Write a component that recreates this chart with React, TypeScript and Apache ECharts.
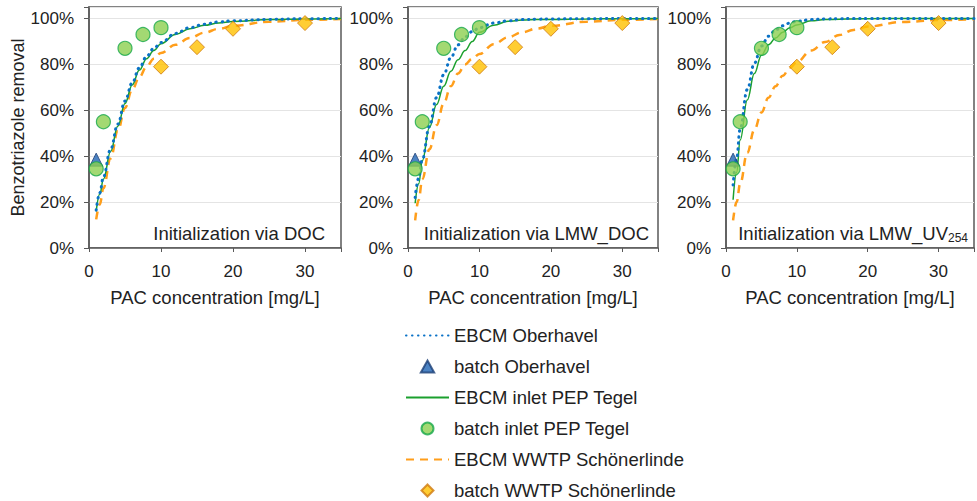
import React, { useEffect, useRef } from "react";
import * as echarts from "echarts";

// ---- data ----
const curveX = [1, 1.5, 2, 3, 4, 5, 6, 7, 8, 9, 10, 12, 14, 16, 18, 20, 25, 30, 35];

// Panel 1: Initialization via DOC
const docOberhavel = [16.5, 24, 31, 43, 54, 64, 72, 78.5, 83.5, 87, 89.5, 93.5, 96, 97.5, 98.5, 99, 99.6, 99.9, 100];
const docTegel = [16, 23.5, 30, 42, 53, 63, 71, 77.5, 82.5, 86, 89, 93, 95.5, 97, 98, 98.7, 99.5, 99.8, 100];
const docSchoen = [12.5, 19, 26, 39, 51, 61, 69, 74.5, 79, 82.5, 85, 88.5, 91.5, 93.8, 95.5, 96.8, 98.6, 99.4, 99.8];

// Panel 2: Initialization via LMW_DOC
const lmwDocOberhavel = [22, 30.5, 38.5, 53, 65.5, 75.5, 83, 88.5, 92, 94.3, 96, 98, 99, 99.5, 99.7, 99.8, 99.9, 100, 100];
const lmwDocTegel = [19.5, 28, 38, 52.5, 62.5, 70.5, 77, 82, 86, 90, 94, 97, 98.8, 99.3, 99.5, 99.6, 99.8, 99.9, 100];
const lmwDocSchoen = [12, 21, 30, 43, 53.5, 63, 70.5, 76, 80, 82.5, 84.5, 88.8, 91.8, 94, 95.6, 96.8, 98.6, 99.4, 99.8];

// Panel 3: Initialization via LMW_UV254
const uvOberhavel = [27.5, 39, 52, 69, 80.5, 88, 92.3, 95, 96.8, 98, 98.8, 99.5, 99.8, 99.9, 100, 100, 100, 100, 100];
const uvTegel = [21, 33, 47, 64.5, 76, 84, 88.5, 91.5, 94, 96, 97.2, 99, 99.5, 99.7, 99.8, 99.9, 100, 100, 100];
const uvSchoen = [12, 20, 28, 41.5, 51.5, 59, 65.5, 70.5, 75, 78.5, 81, 86, 89.8, 92.8, 95, 96.5, 98.5, 99.3, 99.7];

// batch measurements (same in all panels)
const batchOberhavelX = [1];
const batchOberhavelY = [38.5];
const batchTegelX = [1, 2, 5, 7.5, 10];
const batchTegelY = [34.5, 55, 87, 93, 96];
const batchSchoenX = [10, 15, 20, 30];
const batchSchoenY = [79, 87.5, 95.5, 98];

const seriesNames = [
  "EBCM Oberhavel",
  "batch Oberhavel",
  "EBCM inlet PEP Tegel",
  "batch inlet PEP Tegel",
  "EBCM WWTP Schönerlinde",
  "batch WWTP Schönerlinde",
];
const panelLabels = ["Initialization via DOC", "Initialization via LMW_DOC", "Initialization via LMW_UV{sub|254}"];
const yTicksMax = 100;

const FONT = "'Liberation Sans', Arial, sans-serif";
const TEXT = "#222222";
const AXIS = "#595959";

const TRIANGLE = "path://M5,0 L10,9 L0,9 Z";
const DIAMOND = "path://M5,0 L10,5 L5,10 L0,5 Z";
const HIDDEN = { color: "transparent", borderColor: "transparent", borderWidth: 0 };

const zip = (xs: number[], ys: number[]) => xs.map((x, i) => [x, ys[i]]);

export default function App() {
  const ref = useRef<HTMLDivElement>(null);

  useEffect(() => {
    if (!ref.current) return;
    const chart = echarts.init(ref.current, undefined, { renderer: "svg" });

    const grids = [
      { left: 89, top: 7, width: 252, height: 241 },
      { left: 408, top: 7, width: 250, height: 241 },
      { left: 726, top: 7, width: 250, height: 241 },
    ];
    const curves = [
      [docOberhavel, docTegel, docSchoen],
      [lmwDocOberhavel, lmwDocTegel, lmwDocSchoen],
      [uvOberhavel, uvTegel, uvSchoen],
    ];

    const xAxes = grids.map((_, i) => ({
      type: "value",
      gridIndex: i,
      min: 0,
      max: 35,
      interval: 10,
      name: "PAC concentration [mg/L]",
      nameLocation: "middle",
      nameGap: 40,
      nameTextStyle: { fontFamily: FONT, fontSize: 18.5, color: TEXT },
      axisLine: { show: true, lineStyle: { color: AXIS, width: 1.5 } },
      axisTick: { show: true, length: 4, lineStyle: { color: AXIS, width: 1 } },
      axisLabel: {
        fontFamily: FONT,
        fontSize: 17,
        color: TEXT,
        margin: 15,
        formatter: (v: number) => (v > 30 ? "" : String(v)),
      },
      splitLine: { show: false },
    }));

    const yAxes = grids.map((_, i) => ({
      type: "value",
      gridIndex: i,
      min: 0,
      max: 105,
      interval: 20,
      name: i === 0 ? "Benzotriazole removal" : "",
      nameLocation: "middle",
      nameGap: 61,
      nameRotate: 90,
      nameTextStyle: { fontFamily: FONT, fontSize: 18, color: TEXT },
      axisLine: { show: true, lineStyle: { color: AXIS, width: 1.5 } },
      axisTick: { show: true, length: 5, lineStyle: { color: AXIS, width: 1 } },
      axisLabel: {
        fontFamily: FONT,
        fontSize: 17,
        color: TEXT,
        margin: 15,
        formatter: (v: number) => (v > yTicksMax ? "" : v + "%"),
      },
      splitLine: { show: true, lineStyle: { color: "#E4E4E4", width: 1 } },
    }));

    const series: any[] = [];
    grids.forEach((_, i) => {
      const [ob, te, sc] = curves[i];
      series.push(
        {
          name: seriesNames[4],
          type: "line",
          xAxisIndex: i,
          yAxisIndex: i,
          data: zip(curveX, sc),
          smooth: 0.4,
          smoothMonotone: "x",
          symbol: "none",
          lineStyle: { color: "#FF9E1B", width: 2.5, type: [8, 6] },
          itemStyle: { color: "#FF9E1B" },
          z: 2,
        },
        {
          name: seriesNames[2],
          type: "line",
          xAxisIndex: i,
          yAxisIndex: i,
          data: zip(curveX, te),
          smooth: 0.4,
          smoothMonotone: "x",
          symbol: "none",
          lineStyle: { color: "#1BA02E", width: 1.5, type: "solid" },
          itemStyle: { color: "#1BA02E" },
          z: 3,
        },
        {
          name: seriesNames[0],
          type: "line",
          xAxisIndex: i,
          yAxisIndex: i,
          data: zip(curveX, ob),
          smooth: 0.4,
          smoothMonotone: "x",
          symbol: "none",
          lineStyle: { color: "#0A72C6", width: 3, type: [0.5, 5.5], cap: "round" },
          itemStyle: { color: "#0A72C6" },
          z: 4,
        },
        {
          name: seriesNames[1],
          type: "scatter",
          xAxisIndex: i,
          yAxisIndex: i,
          data: zip(batchOberhavelX, batchOberhavelY),
          symbol: "triangle",
          symbolSize: [13, 13],
          itemStyle: { color: "#1F64B4", borderColor: "#1B3F75", borderWidth: 1 },
          z: 5,
        },
        {
          name: seriesNames[3],
          type: "scatter",
          xAxisIndex: i,
          yAxisIndex: i,
          data: zip(batchTegelX, batchTegelY),
          symbol: "circle",
          symbolSize: 14,
          itemStyle: { color: "#8CD050", borderColor: "#16A84A", borderWidth: 1.2 },
          z: 6,
        },
        {
          name: seriesNames[5],
          type: "scatter",
          xAxisIndex: i,
          yAxisIndex: i,
          data: zip(batchSchoenX, batchSchoenY),
          symbol: "diamond",
          symbolSize: 15,
          itemStyle: { color: "#FFC000", borderColor: "#D07A10", borderWidth: 1 },
          z: 6,
        }
      );
    });

    const labelRights = [325, 649, 968];

    chart.setOption({
      animation: false,
      backgroundColor: "#ffffff",
      grid: grids.map((g) => ({
        ...g,
        show: true,
        borderColor: AXIS,
        borderWidth: 1.5,
        backgroundColor: "transparent",
        containLabel: false,
      })),
      xAxis: xAxes,
      yAxis: yAxes,
      legend: {
        orient: "vertical",
        left: 405,
        top: 326,
        height: 200,
        padding: 0,
        itemWidth: 43,
        itemHeight: 12,
        itemGap: 12,
        symbolKeepAspect: true,
        data: [
          { name: seriesNames[0], itemStyle: HIDDEN },
          { name: seriesNames[1], icon: TRIANGLE },
          { name: seriesNames[2], itemStyle: HIDDEN },
          { name: seriesNames[3], icon: "circle" },
          { name: seriesNames[4], itemStyle: HIDDEN },
          { name: seriesNames[5], icon: DIAMOND },
        ],
        textStyle: { fontFamily: FONT, fontSize: 18.5, color: TEXT, lineHeight: 19 },
      },
      graphic: panelLabels.map((t, i) => ({
        type: "text",
        x: labelRights[i],
        y: 233,
        z: 10,
        style: {
          text: t,
          fontFamily: FONT,
          fontSize: 18.5,
          fill: TEXT,
          align: "right",
          verticalAlign: "middle",
          textAlign: "right",
          textVerticalAlign: "middle",
          rich: {
            sub: { fontFamily: FONT, fontSize: 12, fill: TEXT, padding: [9, 0, 0, 0] },
          },
        },
      })),
      series,
    });

    return () => chart.dispose();
  }, []);

  return (
    <div
      ref={ref}
      style={{ position: "fixed", left: 0, top: 0, width: 977, height: 501, background: "#fff" }}
    />
  );
}
